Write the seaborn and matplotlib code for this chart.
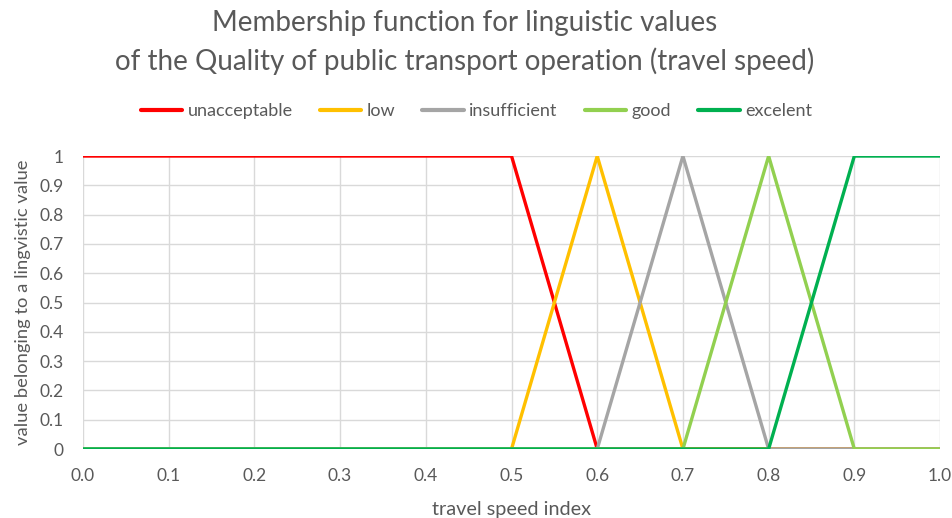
import pandas as pd
import numpy as np
import seaborn as sns
import matplotlib.pyplot as plt

# shared x breakpoints of the membership functions
x_points = [0.0, 0.5, 0.6, 0.7, 0.8, 0.9, 1.0]

unacceptable = [1, 1, 0, 0, 0, 0, 0]
low = [0, 0, 1, 0, 0, 0, 0]
insufficient = [0, 0, 0, 1, 0, 0, 0]
good = [0, 0, 0, 0, 1, 0, 0]
excelent = [0, 0, 0, 0, 0, 1, 1]

series_names = ["unacceptable", "low", "insufficient", "good", "excelent"]
series_colors = ["#FF0000", "#FFC000", "#A5A5A5", "#92D050", "#00B050"]

x_ticks = [0.0, 0.1, 0.2, 0.3, 0.4, 0.5, 0.6, 0.7, 0.8, 0.9, 1.0]
y_ticks = [0, 0.1, 0.2, 0.3, 0.4, 0.5, 0.6, 0.7, 0.8, 0.9, 1]
y_tick_labels = ["0", "0.1", "0.2", "0.3", "0.4", "0.5", "0.6", "0.7", "0.8", "0.9", "1"]


def main():
    values = [unacceptable, low, insufficient, good, excelent]
    rows = []
    for name, vals in zip(series_names, values):
        for xv, yv in zip(x_points, vals):
            rows.append({"x": xv, "y": yv, "series": name})
    df = pd.DataFrame(rows)

    sns.set_style("white")
    plt.rcParams['font.family'] = ['Lato', 'DejaVu Sans']
    text_color = "#595959"

    fig = plt.figure(figsize=(9.53, 5.18), dpi=100)
    ax = fig.add_axes([0.0871, 0.1332, 0.8993, 0.5656])

    sns.lineplot(data=df, x="x", y="y", hue="series", hue_order=series_names,
                 palette=series_colors, linewidth=2.4, ax=ax, sort=False,
                 legend=True)

    ax.set_xlim(0, 1)
    ax.set_ylim(0, 1)
    ax.set_xticks(x_ticks)
    ax.set_xticklabels([f"{t:.1f}" for t in x_ticks])
    ax.set_yticks(y_ticks)
    ax.set_yticklabels(y_tick_labels)
    ax.grid(True, color="#D9D9D9", linewidth=1.0)
    ax.set_axisbelow(True)
    for s in ax.spines.values():
        s.set_visible(False)
    ax.tick_params(axis='both', length=0, labelsize=12.5, colors=text_color)
    ax.tick_params(axis='x', pad=14)
    ax.tick_params(axis='y', pad=14)

    ax.set_xlabel("travel speed index", fontsize=14.3, color=text_color, labelpad=12)
    ax.set_ylabel("value belonging to a lingvistic value", fontsize=13.2,
                  color=text_color, labelpad=6)

    handles, labels = ax.get_legend_handles_labels()
    ax.legend_.remove()
    for h in handles:
        h.set_linewidth(3)
    fig.legend(handles, labels, loc="center", bbox_to_anchor=(0.5, 0.785),
               ncol=5, frameon=False, fontsize=13, handlelength=2.3,
               handletextpad=0.3, columnspacing=1.5, labelcolor=text_color)

    fig.text(0.488, 0.955, "Membership function for linguistic values",
             ha="center", va="center", fontsize=20, color=text_color)
    fig.text(0.488, 0.882, "of the Quality of public transport operation (travel speed)",
             ha="center", va="center", fontsize=20, color=text_color)

    fig.savefig("out.png", dpi=100)


if __name__ == '__main__':
    main()
